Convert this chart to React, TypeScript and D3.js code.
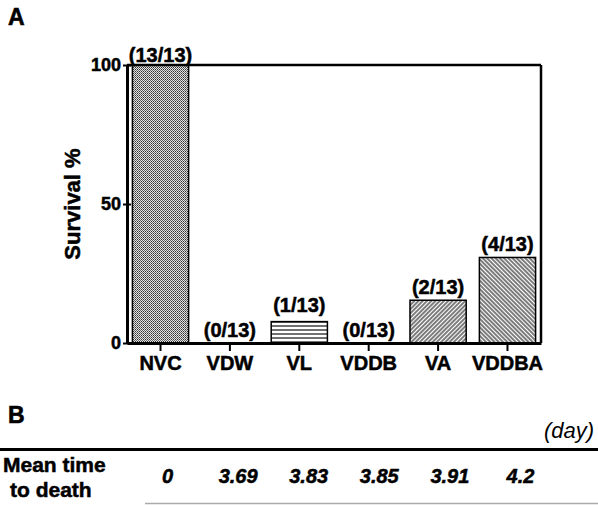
import { useEffect, useRef } from 'react';
import * as d3 from 'd3';

// survival data: animals surviving out of each group
const groups = ['NVC', 'VDW', 'VL', 'VDDB', 'VA', 'VDDBA'];
const survived = [13, 0, 1, 0, 2, 4];
const totals = [13, 13, 13, 13, 13, 13];
const yTicks = [0, 50, 100];
const meanTimeToDeath = ['0', '3.69', '3.83', '3.85', '3.91', '4.2'];

const fills: Record<string, string> = {
  NVC: 'url(#pat-dots)',
  VDW: 'none',
  VL: 'url(#pat-hlines)',
  VDDB: 'none',
  VA: 'url(#pat-diag-up)',
  VDDBA: 'url(#pat-diag-down)',
};

const FONT = '"Liberation Sans", Arial, Helvetica, sans-serif';

const App = () => {
  const svgRef = useRef<SVGSVGElement>(null);

  useEffect(() => {
    const W = 598;
    const H = 506;
    const margin = { top: 65, right: 57, bottom: 163, left: 127 };
    const width = W - margin.left - margin.right;
    const height = H - margin.top - margin.bottom;

    const root = d3.select(svgRef.current);
    root.selectAll('*').remove();
    const svg = root.attr('width', W).attr('height', H);

    // patterns
    const defs = svg.append('defs');
    const dots = defs.append('pattern')
      .attr('id', 'pat-dots')
      .attr('patternUnits', 'userSpaceOnUse')
      .attr('width', 2).attr('height', 2);
    dots.append('rect').attr('width', 2).attr('height', 2).attr('fill', '#e4e4e4');
    dots.append('rect').attr('width', 1).attr('height', 1).attr('fill', '#333');
    dots.append('rect').attr('x', 1).attr('y', 1).attr('width', 1).attr('height', 1).attr('fill', '#666');

    const hl = defs.append('pattern')
      .attr('id', 'pat-hlines')
      .attr('patternUnits', 'userSpaceOnUse')
      .attr('width', 8).attr('height', 4);
    hl.append('rect').attr('width', 8).attr('height', 4).attr('fill', '#fff');
    hl.append('line').attr('x1', 0).attr('x2', 8).attr('y1', 1).attr('y2', 1)
      .attr('stroke', '#111').attr('stroke-width', 1.2);

    [['pat-diag-up', 45], ['pat-diag-down', -45]].forEach(([id, angle]) => {
      const p = defs.append('pattern')
        .attr('id', id as string)
        .attr('patternUnits', 'userSpaceOnUse')
        .attr('width', 3).attr('height', 8)
        .attr('patternTransform', `rotate(${angle})`);
      p.append('rect').attr('width', 3).attr('height', 8).attr('fill', '#fff');
      p.append('line').attr('x1', 1).attr('x2', 1).attr('y1', 0).attr('y2', 8)
        .attr('stroke', '#111').attr('stroke-width', 1.1);
    });

    const g = svg.append('g')
      .attr('transform', `translate(${margin.left},${margin.top})`);

    const x = d3.scaleBand()
      .domain(groups)
      .range([0, width])
      .paddingInner(0.19)
      .paddingOuter(0.078);

    const y = d3.scaleLinear()
      .domain([0, 100])
      .range([height, 0]);

    const data = groups.map((name, i) => ({
      name,
      n: survived[i],
      total: totals[i],
      pct: (survived[i] / totals[i]) * 100,
    }));

    // bars
    g.selectAll('rect.bar')
      .data(data.filter(d => d.pct > 0))
      .join('rect')
      .attr('class', 'bar')
      .attr('x', d => x(d.name)!)
      .attr('y', d => y(d.pct))
      .attr('width', x.bandwidth())
      .attr('height', d => height - y(d.pct))
      .attr('fill', d => fills[d.name])
      .attr('stroke', '#000')
      .attr('stroke-width', 1.5);

    // count labels
    g.selectAll('text.count')
      .data(data)
      .join('text')
      .attr('class', 'count')
      .attr('x', d => x(d.name)! + x.bandwidth() / 2)
      .attr('y', d => y(d.pct) - (d.pct === 100 ? 3 : d.name === 'VL' ? 10 : 6))
      .attr('text-anchor', 'middle')
      .attr('font-family', FONT)
      .attr('font-weight', 'bold')
      .attr('font-size', 20)
      .attr('stroke', '#000').attr('stroke-width', 0.5)
      .text(d => `(${d.n}/${d.total})`);

    // frame
    g.append('line').attr('x1', 0).attr('x2', width).attr('y1', 0).attr('y2', 0)
      .attr('stroke', '#000').attr('stroke-width', 2.5);
    g.append('line').attr('x1', width).attr('x2', width).attr('y1', 0).attr('y2', height)
      .attr('stroke', '#000').attr('stroke-width', 2.5);

    // y axis
    const yAxis = g.append('g')
      .call(d3.axisLeft(y).tickValues(yTicks).tickSize(0).tickPadding(6).tickFormat(d3.format('d')));
    yAxis.select('.domain').attr('stroke-width', 3);
    yAxis.selectAll('.tick line').remove();
    yAxis.selectAll('.tick').append('line')
      .attr('x1', -4).attr('x2', 4).attr('stroke', '#000').attr('stroke-width', 2);
    yAxis.selectAll('.tick text')
      .attr('font-family', FONT).attr('font-weight', 'bold').attr('font-size', 18)
      .attr('fill', '#000').attr('stroke', '#000').attr('stroke-width', 0.5);

    // x axis
    const xAxis = g.append('g')
      .attr('transform', `translate(0,${height})`)
      .call(d3.axisBottom(x).tickSizeOuter(0).tickSizeInner(8).tickPadding(5));
    xAxis.select('.domain').attr('stroke-width', 3);
    xAxis.selectAll('.tick line').attr('stroke-width', 2);
    xAxis.selectAll('.tick text')
      .attr('font-family', FONT).attr('font-weight', 'bold').attr('font-size', 20)
      .attr('fill', '#000').attr('stroke', '#000').attr('stroke-width', 0.5);

    // y title
    svg.append('text')
      .attr('transform', `translate(80,${margin.top + height / 2}) rotate(-90)`)
      .attr('text-anchor', 'middle')
      .attr('font-family', FONT).attr('font-weight', 'bold').attr('font-size', 22)
      .attr('stroke', '#000').attr('stroke-width', 0.5)
      .text('Survival %');

    // panel letters
    svg.append('text').attr('x', 8).attr('y', 25)
      .attr('font-family', FONT).attr('font-weight', 'bold').attr('font-size', 23)
      .attr('stroke', '#000').attr('stroke-width', 0.6)
      .text('A');
    svg.append('text').attr('x', 8).attr('y', 423)
      .attr('font-family', FONT).attr('font-weight', 'bold').attr('font-size', 23)
      .attr('stroke', '#000').attr('stroke-width', 0.6)
      .text('B');

    // table B
    svg.append('text').attr('x', 594).attr('y', 438)
      .attr('text-anchor', 'end')
      .attr('font-family', FONT).attr('font-style', 'italic').attr('font-size', 22)
      .text('(day)');
    svg.append('line').attr('x1', 0).attr('x2', W).attr('y1', 449.5).attr('y2', 449.5)
      .attr('stroke', '#000').attr('stroke-width', 3);
    svg.append('line').attr('x1', 145).attr('x2', 598).attr('y1', 503.5).attr('y2', 503.5)
      .attr('stroke', '#aaa').attr('stroke-width', 1.5);

    svg.append('text').attr('x', 3).attr('y', 472)
      .attr('font-family', FONT).attr('font-weight', 'bold').attr('font-size', 21)
      .attr('stroke', '#000').attr('stroke-width', 0.5)
      .text('Mean time');
    svg.append('text').attr('x', 10).attr('y', 497)
      .attr('font-family', FONT).attr('font-weight', 'bold').attr('font-size', 21)
      .attr('stroke', '#000').attr('stroke-width', 0.5)
      .text('to death');

    svg.selectAll('text.mtd')
      .data(meanTimeToDeath)
      .join('text')
      .attr('class', 'mtd')
      .attr('x', (d, i) => margin.left + x(groups[i])! + x.bandwidth() / 2 + 7 + i * 1.2)
      .attr('y', 483)
      .attr('text-anchor', 'middle')
      .attr('font-family', FONT).attr('font-weight', 'bold').attr('font-style', 'italic')
      .attr('font-size', 20)
      .attr('stroke', '#000').attr('stroke-width', 0.5)
      .text(d => d);
  }, []);

  return (
    <svg
      ref={svgRef}
      style={{ position: 'absolute', left: 0, top: 0, background: '#fff' }}
    />
  );
};

export default App;
